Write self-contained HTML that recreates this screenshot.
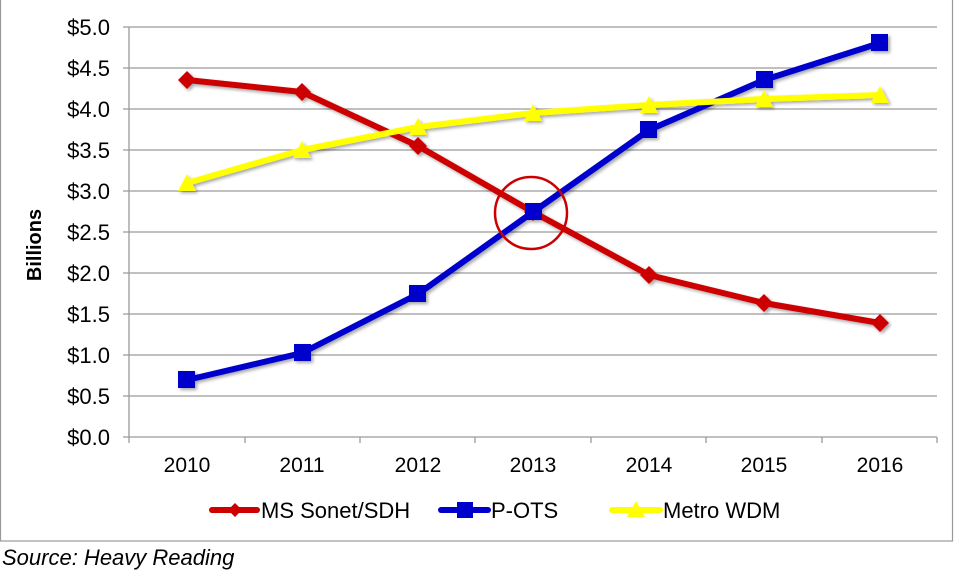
<!DOCTYPE html>
<html><head><meta charset="utf-8"><style>
body{margin:0;background:#fff;width:954px;height:575px;overflow:hidden;font-family:"Liberation Sans",Arial,sans-serif}
</style></head><body>
<svg width="954" height="575" xmlns="http://www.w3.org/2000/svg" font-family="Liberation Sans, Arial, sans-serif">
<defs><filter id="sh" x="-50%" y="-50%" width="200%" height="200%"><feDropShadow dx="2" dy="2" stdDeviation="1.5" flood-color="#000" flood-opacity="0.35"/></filter></defs>
<rect x="0.5" y="-2" width="952" height="543" fill="none" stroke="#999" stroke-width="1.2"/>
<g stroke="#9a9a9a" stroke-width="1.3">
<line x1="123" y1="27" x2="937" y2="27"/><line x1="123" y1="68" x2="937" y2="68"/><line x1="123" y1="109" x2="937" y2="109"/><line x1="123" y1="150" x2="937" y2="150"/><line x1="123" y1="191" x2="937" y2="191"/><line x1="123" y1="232" x2="937" y2="232"/><line x1="123" y1="273" x2="937" y2="273"/><line x1="123" y1="314" x2="937" y2="314"/><line x1="123" y1="355" x2="937" y2="355"/><line x1="123" y1="396" x2="937" y2="396"/><line x1="123" y1="437" x2="937" y2="437"/>
<line x1="129" y1="27" x2="129" y2="437"/>
<line x1="129" y1="437" x2="129" y2="443"/><line x1="245" y1="437" x2="245" y2="443"/><line x1="360" y1="437" x2="360" y2="443"/><line x1="475" y1="437" x2="475" y2="443"/><line x1="591" y1="437" x2="591" y2="443"/><line x1="706" y1="437" x2="706" y2="443"/><line x1="822" y1="437" x2="822" y2="443"/><line x1="937" y1="437" x2="937" y2="443"/>
</g>
<g font-size="22" fill="#000" text-anchor="end">
<text x="110" y="35">$5.0</text><text x="110" y="76">$4.5</text><text x="110" y="117">$4.0</text><text x="110" y="158">$3.5</text><text x="110" y="199">$3.0</text><text x="110" y="240">$2.5</text><text x="110" y="281">$2.0</text><text x="110" y="322">$1.5</text><text x="110" y="363">$1.0</text><text x="110" y="404">$0.5</text><text x="110" y="445">$0.0</text>
</g>
<g font-size="21" fill="#000" text-anchor="middle">
<text x="187" y="472">2010</text><text x="302" y="472">2011</text><text x="418" y="472">2012</text><text x="533" y="472">2013</text><text x="649" y="472">2014</text><text x="764" y="472">2015</text><text x="880" y="472">2016</text>
</g>
<text transform="translate(41,245) rotate(-90)" font-size="20" font-weight="bold" text-anchor="middle">Billions</text>
<g filter="url(#sh)">
<polyline points="187,80 302,92 418,146 533,212 649,275 764,303 880,323" fill="none" stroke="#cc0000" stroke-width="6" stroke-linejoin="round"/>
<polyline points="187,380 302,353 418,294 533,212 649,130 764,80 880,43" fill="none" stroke="#0000cc" stroke-width="6" stroke-linejoin="round"/>
<polyline points="187,183 302,150 418,127 533,113 649,105 764,99 880,95" fill="none" stroke="#ffff00" stroke-width="6" stroke-linejoin="round"/>
<g fill="#cc0000">
<polygon points="187,71 196,80 187,89 178,80"/><polygon points="302,83 311,92 302,101 293,92"/><polygon points="418,137 427,146 418,155 409,146"/><polygon points="533,203 542,212 533,221 524,212"/><polygon points="649,266 658,275 649,284 640,275"/><polygon points="764,294 773,303 764,312 755,303"/><polygon points="880,314 889,323 880,332 871,323"/>
</g>
<g fill="#0000cc">
<rect x="178" y="371" width="17" height="17"/><rect x="294" y="344" width="17" height="17"/><rect x="409" y="285" width="17" height="17"/><rect x="525" y="203" width="17" height="17"/><rect x="640" y="121" width="17" height="17"/><rect x="756" y="71" width="17" height="17"/><rect x="871" y="34" width="17" height="17"/>
</g>
<g fill="#ffff00">
<polygon points="187,174 196,191 178,191"/><polygon points="302,141 311,158 293,158"/><polygon points="418,118 427,135 409,135"/><polygon points="533,104 542,121 524,121"/><polygon points="649,96 658,113 640,113"/><polygon points="764,90 773,107 755,107"/><polygon points="880,86 889,103 871,103"/>
</g>
</g>
<circle cx="531" cy="213" r="36" fill="none" stroke="#cc0000" stroke-width="2.5"/>
<g>
<line x1="212" y1="510" x2="257" y2="510" stroke="#cc0000" stroke-width="6" stroke-linecap="round"/>
<polygon points="235,503 242,510 235,517 228,510" fill="#cc0000"/>
<text x="261" y="518" font-size="22">MS Sonet/SDH</text>
<line x1="441" y1="510" x2="488" y2="510" stroke="#0000cc" stroke-width="6" stroke-linecap="round"/>
<rect x="457" y="502" width="16" height="16" fill="#0000cc"/>
<text x="491" y="518" font-size="22">P-OTS</text>
<line x1="612" y1="510" x2="660" y2="510" stroke="#ffff00" stroke-width="6" stroke-linecap="round"/>
<polygon points="636,501 645,517 627,517" fill="#ffff00"/>
<text x="663" y="518" font-size="22">Metro WDM</text>
</g>
<text x="2" y="565" font-size="22" font-style="italic">Source: Heavy Reading</text>
</svg>
</body></html>
